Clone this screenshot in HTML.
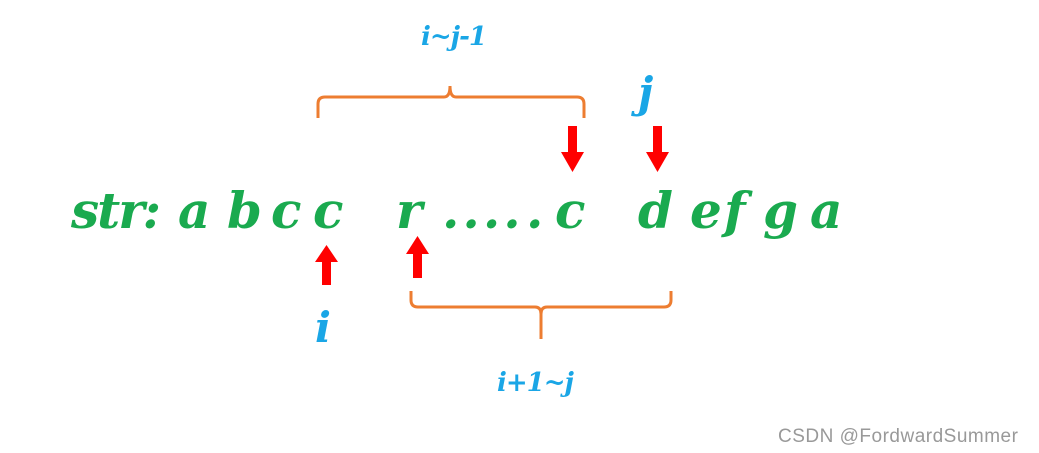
<!DOCTYPE html>
<html><head><meta charset="utf-8"><style>
body{margin:0;width:1039px;height:453px;background:#fff;position:relative;overflow:hidden}
.g{position:absolute;font-family:"DejaVu Serif",serif;font-style:italic;font-weight:bold;color:#1aaa4f;font-size:50px;line-height:1;top:186px}
.b{position:absolute;font-family:"DejaVu Serif",serif;font-style:italic;font-weight:bold;color:#1aa6e6;line-height:1}
</style></head><body>
<div class="g" style="left:71px;letter-spacing:-2px">str:</div>
<div class="g" style="left:178px">a</div>
<div class="g" style="left:227px">b</div>
<div class="g" style="left:271px">c</div>
<div class="g" style="left:313px">c</div>
<div class="g" style="left:396px">r</div>
<div class="g" style="left:442px;letter-spacing:3px">....</div>
<div class="g" style="left:526px">.</div>
<div class="g" style="left:555px">c</div>
<div class="g" style="left:638px">d</div>
<div class="g" style="left:690px">e</div>
<div class="g" style="left:724px">f</div>
<div class="g" style="left:763px">g</div>
<div class="g" style="left:810px">a</div>

<div class="b" style="left:421px;top:24px;font-size:26px;letter-spacing:-1px">i~j-1</div>
<div class="b" style="left:638px;top:72px;font-size:42px">j</div>
<div class="b" style="left:315px;top:307px;font-size:42px">i</div>
<div class="b" style="left:497px;top:370px;font-size:26px;letter-spacing:-1px">i+1~j</div>

<svg width="1039" height="453" style="position:absolute;left:0;top:0">
<g fill="none" stroke="#ed7d31" stroke-width="3">
<path d="M318 118 V104 Q318 97 325 97 H444 Q450 97 450 86 Q450 97 456 97 H577 Q584 97 584 104 V118"/>
<path d="M411 291 V300 Q411 307 418 307 H535 Q541 307 541 314 V339 M541 314 Q541 307 547 307 H664 Q671 307 671 300 V291"/>
</g>
<g fill="#ff0000">
<polygon points="568,126 577,126 577,152 584,152 572.5,172 561,152 568,152"/>
<polygon points="653,126 662,126 662,152 669,152 657.5,172 646,152 653,152"/>
<polygon points="322,285 331,285 331,262 338,262 326.5,245 315,262 322,262"/>
<polygon points="413,278 422,278 422,254 429,254 417.5,236 406,254 413,254"/>
</g>
</svg>
<div style="position:absolute;left:778px;top:426px;font-family:'Liberation Sans',sans-serif;font-size:19px;letter-spacing:0.5px;color:#999">CSDN @FordwardSummer</div>
</body></html>
